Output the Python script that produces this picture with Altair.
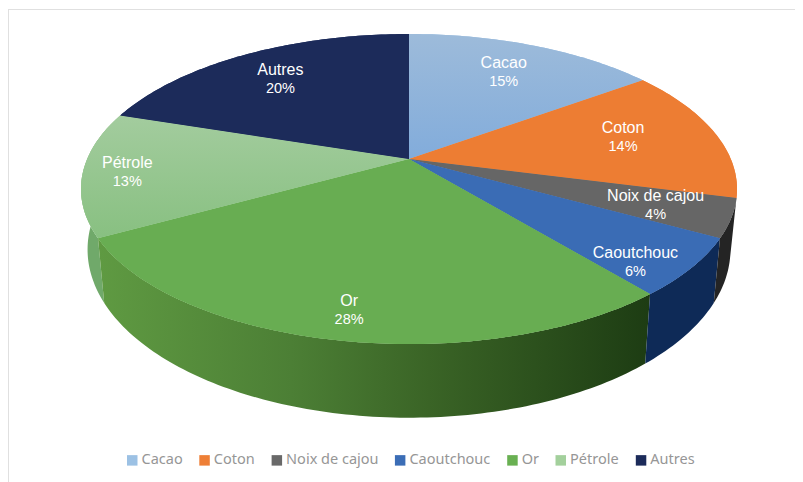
import numpy as np
import pandas as pd
import altair as alt

categories = ["Cacao", "Coton", "Noix de cajou", "Caoutchouc", "Or", "Pétrole", "Autres"]
shares = [15, 14, 4, 6, 28, 13, 20]
colors = ["#9cc1e4", "#ee7f36", "#696969", "#3b6db6", "#69b052", "#a3d09c", "#1c2b5a"]
top_colors = ["#8fb3da", "#ed7d33", "#666666", "#3a6cb5", "#68ad52", "#98c691", "#1c2b5a"]
label_radius = [0.73, 0.70, 0.78, 0.87, 0.862, 0.865, 0.74]
label_shift = [0, -1.4, 0.5, 4.9, -0.4, -0.4, -1.0]

W, H = 787, 474
CX, CY, A, B, K = 401.0, 151.0, 321.8, 149.2, 0.1935
SHRINK_X, SHRINK_Y, DROP = 0.98, 1.085, 58.0


def project(deg, r=1.0):
    t = np.radians(deg)
    u, v = r * np.sin(t), -r * np.cos(t)
    d = 1 - K * v
    return CX + A * u / d, CY + B * v / d


def lower(x, y):
    return CX + SHRINK_X * (x - CX), CY + DROP + SHRINK_Y * (y - CY)


edges = np.cumsum([0] + shares) * 3.6
top_rows, wall = [], {}
for n, cat in enumerate(categories):
    arc = np.linspace(edges[n], edges[n + 1], int(shares[n] * 3.6) + 2)
    xs, ys = project(arc)
    px = [CX] + list(xs)
    py = [CY] + list(ys)
    for i, (a, b) in enumerate(zip(px, py)):
        top_rows.append({"cat": cat, "i": i, "x": a, "y": b})
    bx, by = lower(xs, ys)
    wx = list(xs) + list(bx[::-1])
    wy = list(ys) + list(by[::-1])
    wall[cat] = pd.DataFrame({"i": range(len(wx)), "x": wx, "y": wy})
top = pd.DataFrame(top_rows)

labels = []
for n, cat in enumerate(categories):
    mid = (edges[n] + edges[n + 1]) / 2 + label_shift[n]
    lx, ly = project(mid, label_radius[n])
    labels.append({"name": cat, "pct": f"{shares[n]}%", "x": lx, "y": ly})
labels = pd.DataFrame(labels)

xs = alt.Scale(domain=[0, W], nice=False, zero=False)
ys = alt.Scale(domain=[H, 0], nice=False, zero=False)
X = alt.X("x:Q", scale=xs, axis=None)
Y = alt.Y("y:Q", scale=ys, axis=None)


def grad(stops, horizontal=True):
    return alt.Gradient(
        gradient="linear",
        stops=[alt.GradientStop(offset=o, color=c) for o, c in stops],
        x1=0, y1=0, x2=1 if horizontal else 0, y2=0 if horizontal else 1,
    )


def wall_layer(cat, fill):
    return alt.Chart(wall[cat]).mark_line(fill=fill, strokeWidth=0).encode(x=X, y=Y, order="i:Q")


def top_overlay(cat, fill):
    return alt.Chart(top[top.cat == cat]).mark_line(fill=fill, strokeWidth=0).encode(x=X, y=Y, order="i:Q")


walls = [
    wall_layer("Pétrole", "#70a96a"),
    wall_layer("Or", grad([(0, "#5f9a42"), (0.35, "#4c7f35"), (0.6, "#3a6426"), (1, "#1d3c13")])),
    wall_layer("Caoutchouc", "#0e2a57"),
    wall_layer("Noix de cajou", "#242424"),
]

faces = alt.Chart(top).mark_line(strokeWidth=0).encode(
    x=X, y=Y, order="i:Q", detail="cat:N",
    fill=alt.Fill(
        "cat:N",
        scale=alt.Scale(domain=categories, range=colors),
        legend=alt.Legend(
            title=None, orient="none", legendX=117, legendY=445, direction="horizontal",
            symbolType="square", symbolSize=110, symbolStrokeWidth=0, symbolOpacity=1,
            labelFont="Noto Sans", labelFontSize=14.5, labelColor="#969696", labelOffset=2,
            columnPadding=14.3, labelLimit=200,
        ),
    ),
)

overlays = []
for n, cat in enumerate(categories):
    if cat == "Cacao":
        overlays.append(top_overlay(cat, grad([(0, "#9dbbda"), (1, "#82acdb")], False)))
    elif cat == "Pétrole":
        overlays.append(top_overlay(cat, grad([(0, "#a3cc9e"), (1, "#88c081")], False)))
    else:
        overlays.append(top_overlay(cat, top_colors[n]))

name_text = alt.Chart(labels).mark_text(
    color="white", font="Liberation Sans", fontSize=16, align="center", baseline="middle", dy=-9.5,
).encode(x=X, y=Y, text="name:N")
pct_text = alt.Chart(labels).mark_text(
    color="white", font="Liberation Sans", fontSize=14.5, align="center", baseline="middle", dy=9.5,
).encode(x=X, y=Y, text="pct:N")

frame_top = alt.Chart(pd.DataFrame({"a": [0]})).mark_rule(color="#e0e0e0", strokeWidth=1).encode(
    x=alt.value(0), x2=alt.value(W), y=alt.value(1.5))
frame_left = alt.Chart(pd.DataFrame({"a": [0]})).mark_rule(color="#e0e0e0", strokeWidth=2).encode(
    x=alt.value(0), y=alt.value(1), y2=alt.value(H))

chart = alt.layer(frame_top, frame_left, *walls, faces, *overlays, name_text, pct_text).properties(
    width=W, height=H, padding=0, background="white",
    autosize=alt.AutoSizeParams(type="none"),
).configure_view(strokeWidth=0)

chart.save("out.html", embed_options={"renderer": "svg", "actions": False})
